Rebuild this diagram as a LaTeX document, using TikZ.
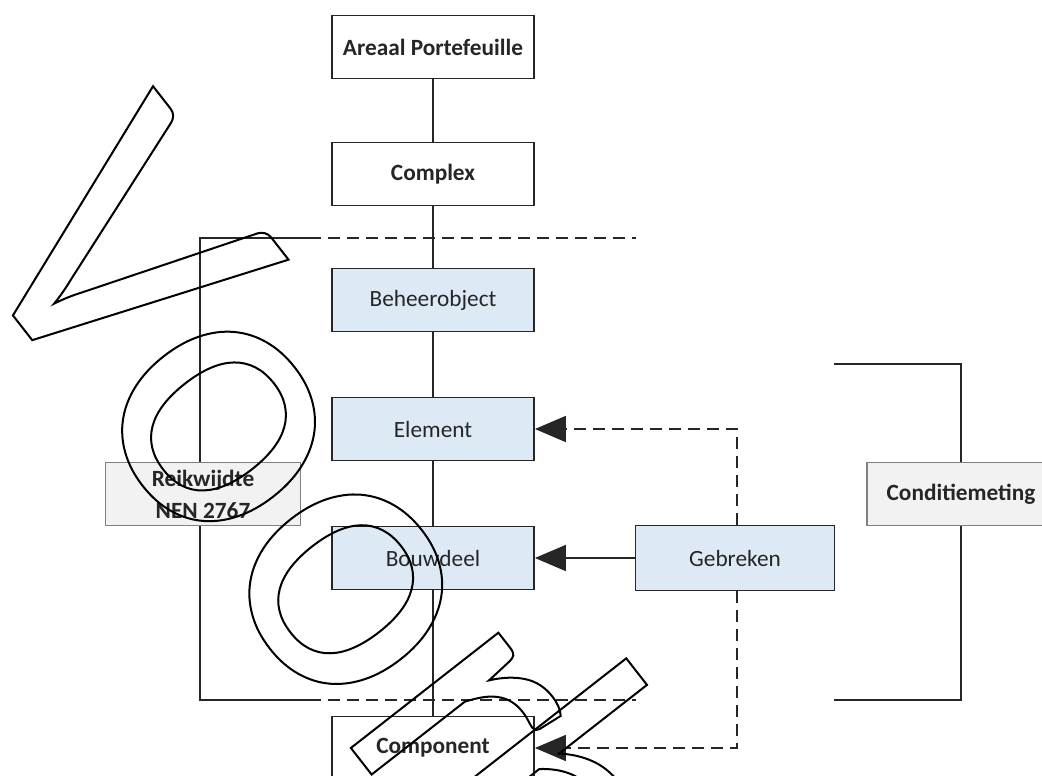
\documentclass[tikz,border=0pt]{standalone}
\usepackage{fontspec}
\setmainfont{Carlito}
\newfontfamily\wmfont{Carlito}
\usetikzlibrary{arrows.meta}
\definecolor{ink}{HTML}{262626}
\definecolor{boxblue}{HTML}{DDEAF6}
\definecolor{boxgray}{HTML}{F2F2F2}
\definecolor{graybd}{HTML}{808080}
\tikzset{
  base/.style={draw=ink, line width=1.8pt, minimum width=202pt, minimum height=63pt,
    inner sep=2pt, text=ink, font=\fontsize{23.3}{32}\selectfont},
  whitebox/.style={base, fill=white, font=\fontsize{23.3}{32}\selectfont\bfseries},
  bluebox/.style={base, fill=boxblue},
  graybox/.style={base, fill=boxgray, draw=graybd, align=center,
    font=\fontsize{23.3}{32}\selectfont\bfseries},
  conn/.style={draw=ink, line width=1.8pt},
  dashconn/.style={conn, dash pattern=on 12pt off 7pt},
  tip/.style={-{Triangle[length=31pt,width=26pt]}},
}
\begin{document}
\begin{tikzpicture}[x=1pt,y=-1pt]
\useasboundingbox (0,0) rectangle (1042,776);
\clip (0,0) rectangle (1042,776);
% bracket corner points
\coordinate (lt) at (200,238);
\coordinate (ltd) at (309,238);
\coordinate (lte) at (636,238);
\coordinate (lb) at (200,700);
\coordinate (lbd) at (309,700);
\coordinate (lbe) at (636,700);
\coordinate (rt0) at (834,364);
\coordinate (rt) at (961,364);
\coordinate (rb) at (961,700);
\coordinate (rb0) at (834,700);
\coordinate (ge) at (737,429);
\coordinate (gc) at (737,748);

\node[whitebox] (A) at (433,47) {Areaal Portefeuille};
\node[whitebox] (C) at (433,174) {Complex};
\node[bluebox] (B) at (433,300) {Beheerobject};
\node[bluebox] (E) at (433,429) {Element};
\node[bluebox] (Bo) at (433,558) {Bouwdeel};
\node[whitebox] (Co) at (433,748) {Component};
\node[graybox, minimum width=195pt] (R) at (203,494) {Reikwijdte\\NEN 2767};
\node[bluebox, minimum width=199pt, minimum height=65pt] (G) at (735,558) {Gebreken};
\node[graybox, minimum width=188pt] (Cm) at (961,494) {Conditiemeting};

\draw[conn] (A) -- (C);
\draw[conn] (C) -- (B);
\draw[conn] (B) -- (E);
\draw[conn] (E) -- (Bo);
\draw[conn] (Bo) -- (Co);

\draw[conn] (ltd) -- (lt) -- (R.north -| lt);
\draw[conn] (R.south -| lb) -- (lb) -- (lbd);
\draw[dashconn] (ltd) -- (lte);
\draw[dashconn] (lbd) -- (lbe);

\draw[conn] (rt0) -- (rt) -- (Cm.north);
\draw[conn] (Cm.south) -- (rb) -- (rb0);

\draw[conn, tip] (G) -- (Bo);
\draw[dashconn, tip] (G.north -| ge) -- (ge) -- (E.east);
\draw[dashconn, tip] (G.south -| gc) -- (gc) -- (Co.east);

% watermark
\node[inner sep=0pt, anchor=base west, rotate=-52] (wm) at (-46,240)
  {\special{pdf:literal direct 1 Tr 2 w}\wmfont\fontsize{392}{400}\selectfont Voor\kern-40pt beeld\special{pdf:literal direct 0 Tr}};
\end{tikzpicture}
\end{document}
